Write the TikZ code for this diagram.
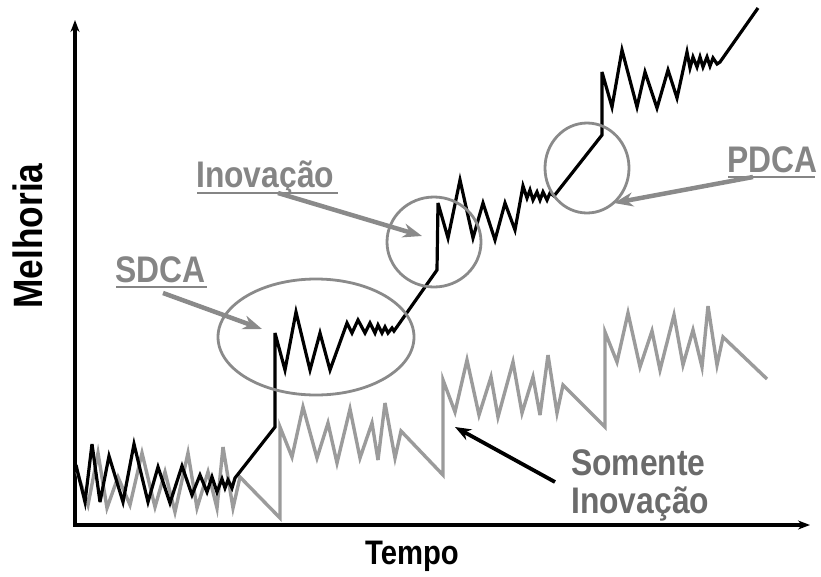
\documentclass[tikz,border=0pt]{standalone}
\usepackage{fontspec}
\newfontfamily\labfont{Liberation Sans}[FakeStretch=0.86]
\usetikzlibrary{arrows.meta}
\definecolor{lblgray}{HTML}{858585}
\definecolor{txtgray}{HTML}{6B6B6B}
\definecolor{curvegray}{HTML}{9B9B9B}
\definecolor{ringgray}{HTML}{8A8A8A}
\tikzset{
  axisline/.style={line width=3.4pt, line join=miter, {Stealth[length=12pt,width=9pt]}-{Stealth[length=12pt,width=9pt]}},
  blackcurve/.style={line width=3.2pt, black, line join=miter, miter limit=6},
  graycurve/.style={line width=3.4pt, curvegray, line join=miter, miter limit=6},
  ring/.style={line width=2.8pt, ringgray},
  garrow/.style={line width=4.5pt, ringgray, -{Stealth[length=19pt,width=14pt,inset=6pt]}},
  barrow/.style={line width=3.8pt, black, -{Stealth[length=16pt,width=12pt,inset=5pt]}},
  uline/.style={line width=2.2pt, lblgray},
  lbl/.style={inner sep=0pt, text=lblgray, font=\labfont\bfseries\fontsize{37}{38}\selectfont},
  somlbl/.style={inner sep=0pt, text=txtgray, font=\labfont\bfseries\fontsize{37}{38}\selectfont},
  axislbl/.style={inner sep=0pt, text=black, font=\labfont\bfseries\fontsize{41}{42}\selectfont}
}
\begin{document}
\begin{tikzpicture}[x=1pt,y=-1pt]
\useasboundingbox (0,0) rectangle (821,576);

% axes
\coordinate (ytip) at (75,20);
\coordinate (origin) at (75,525);
\coordinate (xtip) at (810,525);
\draw[axisline] (ytip) -- (origin) -- (xtip);

% gray curve (only innovation)
\draw[graycurve] (77,472) -- (88,505) -- (98,453) -- (107,508) -- (118,477) -- (130,505) -- (142,453) -- (155,507) -- (165,472) -- (175,512) -- (188,453) -- (197,508) -- (208,472) -- (217,508) -- (223,447) -- (233,508) -- (240,477) -- (280,518)
  -- (280,427) -- (292,457) -- (303,407) -- (317,458) -- (328,423) -- (337,463) -- (350,409) -- (360,458) -- (372,423) -- (378,460) -- (385,403) -- (395,458) -- (401,431) -- (443,475)
  -- (443,380) -- (455,412) -- (467,360) -- (479,415) -- (491,377) -- (498,417) -- (513,362) -- (522,413) -- (533,377) -- (540,415) -- (548,355) -- (557,413) -- (563,385) -- (605,427)
  -- (605,332) -- (617,362) -- (628,313) -- (640,367) -- (652,331) -- (660,370) -- (674,315) -- (683,365) -- (693,330) -- (702,367) -- (708,306) -- (717,365) -- (723,337) -- (767,379);

% black curve (SDCA + PDCA)
\draw[blackcurve] (76,465) -- (85,502) -- (92,444) -- (100,502) -- (109,456) -- (123,502) -- (134,444) -- (148,502) -- (158,467) -- (170,503) -- (182,466) -- (192,495) -- (200,475) -- (207,492) -- (212,477) -- (217,492) -- (222,479) -- (225,488) -- (228,480) -- (232,488) -- (235,478)
  -- (275,427) -- (275,333) -- (285,370) -- (296,312) -- (310,370) -- (320,333) -- (330,370) -- (347,323) -- (352,333) -- (358,320) -- (365,333) -- (370,323) -- (375,333) -- (378,325) -- (382,333) -- (385,327) -- (388,333) -- (392,328) -- (394,331)
  -- (437,270) -- (438,203) -- (448,238) -- (460,180) -- (473,238) -- (483,203) -- (495,240) -- (505,203) -- (515,230) -- (523,186) -- (527,198) -- (530,190) -- (533,200) -- (537,192) -- (540,200) -- (543,192) -- (547,200) -- (550,193) -- (554,196)
  -- (602,135) -- (602,72) -- (612,107) -- (622,50) -- (637,107) -- (645,72) -- (657,108) -- (668,70) -- (677,98) -- (687,52) -- (690,68) -- (693,57) -- (697,67) -- (700,57) -- (703,67) -- (707,57) -- (710,66) -- (713,58) -- (717,64) -- (720,62) -- (758,8);

% rings
\node[draw=none, inner sep=0pt] (sdcaring) at (316,337) {};
\node[draw=none, inner sep=0pt] (inoring) at (434,242) {};
\node[draw=none, inner sep=0pt] (pdcaring) at (587,168) {};
\draw[ring] (sdcaring) ellipse [x radius=98pt, y radius=58pt];
\draw[ring] (inoring) ellipse [x radius=47pt, y radius=45pt];
\draw[ring] (pdcaring) ellipse [x radius=42pt, y radius=45pt];

% labels
\node[lbl, anchor=base west] (sdca) at (115,282) {SDCA};
\draw[uline] (116,287) -- (207,287);
\node[lbl, anchor=base west] (ino) at (196,187) {Inovação};
\draw[uline] (197,193) -- (338,193);
\node[lbl, anchor=base west] (pdca) at (727,172) {PDCA};
\draw[uline] (728,177) -- (815,177);
\node[somlbl, anchor=base west] (som1) at (571,475) {Somente};
\node[somlbl, anchor=base west] (som2) at (571,513) {Inovação};
\node[axislbl, anchor=base, rotate=90] (melhoria) at (42,236) {Melhoria};
\node[axislbl, anchor=base, font=\labfont\bfseries\fontsize{34}{36}\selectfont] (tempo) at (412,564) {Tempo};

% arrows
\coordinate (sdcatail) at (163,293);
\coordinate (sdcahead) at (262,329);
\coordinate (inotail) at (278,193);
\coordinate (inohead) at (422,236);
\coordinate (pdcatail) at (753,177);
\coordinate (pdcahead) at (614,203);
\coordinate (somtail) at (555,482);
\coordinate (somhead) at (455,427);
\draw[garrow] (sdcatail) -- (sdcahead);
\draw[garrow] (inotail) -- (inohead);
\draw[garrow] (pdcatail) -- (pdcahead);
\draw[barrow] (somtail) -- (somhead);
\end{tikzpicture}
\end{document}
